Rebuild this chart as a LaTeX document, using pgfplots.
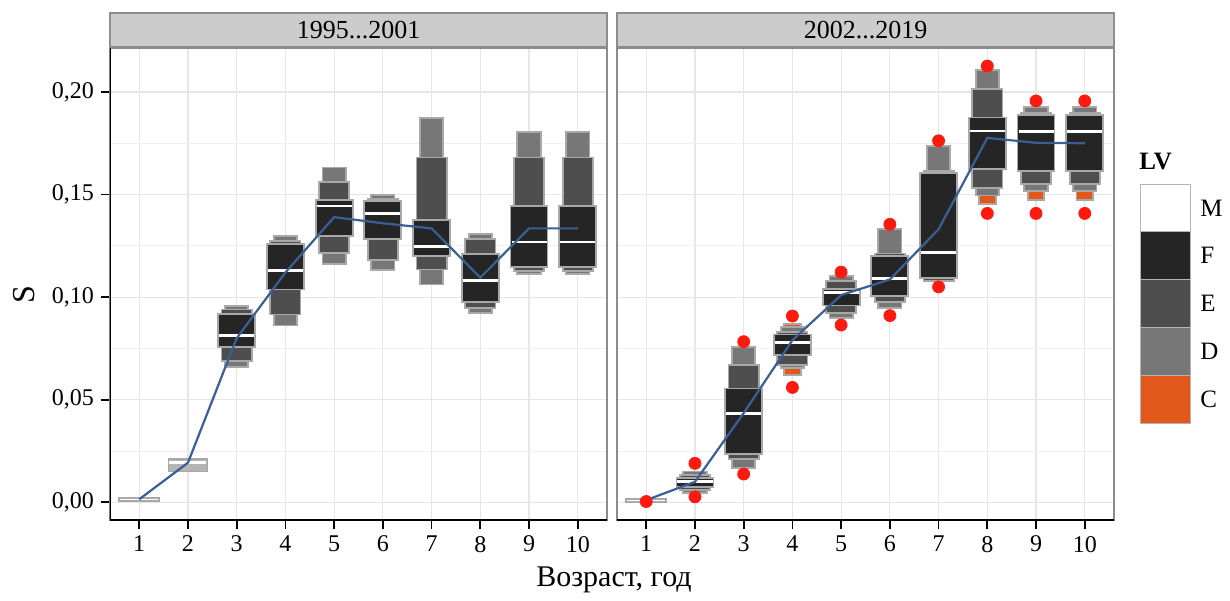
\documentclass[border=0pt]{standalone}
\usepackage{fontspec}
\setmainfont{Liberation Serif}
\usepackage{pgfplots}
\pgfplotsset{compat=1.18}
\definecolor{lvF}{HTML}{252525}
\definecolor{lvE}{HTML}{4E4E4E}
\definecolor{lvD}{HTML}{777777}
\definecolor{lvC}{HTML}{E2571A}
\definecolor{lvL}{HTML}{B4B4B4}
\definecolor{lvOut}{HTML}{A8A8A8}
\definecolor{lvRed}{HTML}{FF1A10}
\definecolor{lvBlue}{HTML}{3A5F96}
\definecolor{gridc}{HTML}{E6E6E6}
\definecolor{gridm}{HTML}{F0F0F0}
\definecolor{framec}{HTML}{8C8C8C}
\definecolor{stripc}{HTML}{CCCCCC}

\newcommand\lvbox[5]{%
  \pgfmathsetmacro\lvxa{#1-#4}%
  \pgfmathsetmacro\lvxb{#1+#4}%
  \edef\lvtmp{\noexpand\addplot[lvstyle, fill=#5] coordinates {(\lvxa,#2) (\lvxb,#2) (\lvxb,#3) (\lvxa,#3)} -- cycle;}%
  \lvtmp}
\newcommand\lvmed[3]{%
  \pgfmathsetmacro\lvxa{#1-#3+0.02}%
  \pgfmathsetmacro\lvxb{#1+#3-0.02}%
  \edef\lvtmp{\noexpand\addplot[white, line width=1.4pt] coordinates {(\lvxa,#2) (\lvxb,#2)};}%
  \lvtmp}
\newcommand\lvF[4]{\lvbox{#1}{#2}{#3}{0.38}{lvF}\lvmed{#1}{#4}{0.38}}
\newcommand\lvE[3]{\lvbox{#1}{#2}{#3}{0.31}{lvE}}
\newcommand\lvD[3]{\lvbox{#1}{#2}{#3}{0.24}{lvD}}
\newcommand\lvC[3]{\lvbox{#1}{#2}{#3}{0.17}{lvC}}

\pgfplotsset{
  lvstyle/.style={draw=lvOut, line width=0.9pt},
  lvaxis/.style={
    scale only axis, width=248.5pt, height=236pt,
    xmin=0.4, xmax=10.6, ymin=-0.0086, ymax=0.2214,
    xtick={1,2,3,4,5,6,7,8,9,10},
    ytick={0,0.05,0.1,0.15,0.2},
    minor ytick={0.025,0.075,0.125,0.175},
    grid=both,
    major grid style={draw=gridc, line width=0.6pt},
    minor grid style={draw=gridm, line width=0.5pt},
    axis line style={draw=framec, line width=0.6pt},
    xtick pos=bottom, ytick pos=left,
    tick align=outside,
    major tick length=4.5pt, minor tick length=0pt,
    tick style={black, line width=0.9pt},
    xticklabel style={font=\fontsize{12}{13}\selectfont},
    yticklabel style={font=\fontsize{12}{13}\selectfont,
      /pgf/number format/fixed, /pgf/number format/fixed zerofill,
      /pgf/number format/precision=2, /pgf/number format/use comma},
    /pgf/number format/assume math mode=true,
  }
}

\begin{document}
\begin{tikzpicture}
\useasboundingbox (-55pt,-40pt) rectangle (560pt,260pt);
% ---------------- panel 1995...2001 ----------------
\begin{axis}[lvaxis, at={(0pt,0pt)}, anchor=south west]
% age 1
\lvbox{1}{0.0006}{0.0022}{0.41}{white}
% age 2
\lvbox{2}{0.0150}{0.0213}{0.40}{lvL}
\lvmed{2}{0.0193}{0.40}
% age 3
\lvD{3}{0.0940}{0.0955}
\lvE{3}{0.0918}{0.0940}
\lvE{3}{0.0687}{0.0756}
\lvD{3}{0.0660}{0.0687}
\lvF{3}{0.0756}{0.0918}{0.0814}
% age 4
\lvD{4}{0.1272}{0.1298}
\lvE{4}{0.1258}{0.1272}
\lvE{4}{0.0915}{0.1037}
\lvD{4}{0.0862}{0.0915}
\lvF{4}{0.1037}{0.1258}{0.1130}
% age 5
\lvD{5}{0.1562}{0.1632}
\lvE{5}{0.1472}{0.1562}
\lvE{5}{0.1217}{0.1298}
\lvD{5}{0.1160}{0.1217}
\lvF{5}{0.1298}{0.1472}{0.1444}
% age 6
\lvD{6}{0.1480}{0.1498}
\lvE{6}{0.1470}{0.1480}
\lvE{6}{0.1181}{0.1282}
\lvD{6}{0.1132}{0.1181}
\lvF{6}{0.1282}{0.1470}{0.1407}
% age 7
\lvD{7}{0.1680}{0.1873}
\lvE{7}{0.1375}{0.1680}
\lvE{7}{0.1135}{0.1200}
\lvD{7}{0.1062}{0.1135}
\lvF{7}{0.1200}{0.1375}{0.1246}
% age 8
\lvD{8}{0.1282}{0.1309}
\lvE{8}{0.1210}{0.1282}
\lvE{8}{0.0948}{0.0978}
\lvD{8}{0.0923}{0.0948}
\lvF{8}{0.0978}{0.1210}{0.1081}
% age 9
\lvD{9}{0.1680}{0.1806}
\lvE{9}{0.1443}{0.1680}
\lvE{9}{0.1127}{0.1145}
\lvD{9}{0.1111}{0.1127}
\lvF{9}{0.1145}{0.1443}{0.1269}
% age 10
\lvD{10}{0.1680}{0.1806}
\lvE{10}{0.1443}{0.1680}
\lvE{10}{0.1127}{0.1145}
\lvD{10}{0.1111}{0.1127}
\lvF{10}{0.1145}{0.1443}{0.1269}
% mean line
\addplot[lvBlue, line width=1.1pt] coordinates {
 (1,0.0015) (2,0.0193) (3,0.0800) (4,0.1120) (5,0.1390)
 (6,0.1360) (7,0.1335) (8,0.1095) (9,0.1335) (10,0.1335)};
\draw[black, line width=1.1pt] (rel axis cs:0,1) -- (rel axis cs:0,0) -- (rel axis cs:1,0);
\end{axis}
% ---------------- panel 2002...2019 ----------------
\begin{axis}[lvaxis, at={(253.5pt,0pt)}, anchor=south west,
  yticklabels={}, ytick style={draw=none}]
% outliers
\addplot[only marks, mark=*, mark size=3pt, color=lvRed] coordinates {
 (1,0.0004) (2,0.0190) (2,0.0027) (3,0.0783) (3,0.0138)
 (4,0.0908) (4,0.0560) (5,0.1122) (5,0.0864) (6,0.1355) (6,0.0910)
 (7,0.1762) (7,0.1050) (8,0.2126) (8,0.1408) (9,0.1956) (9,0.1408)
 (10,0.1956) (10,0.1408)};
% age 1
\lvbox{1}{0.0002}{0.0018}{0.41}{white}
% age 2
\lvD{2}{0.0135}{0.0150}
\lvE{2}{0.0120}{0.0135}
\lvE{2}{0.0060}{0.0076}
\lvD{2}{0.0047}{0.0060}
\lvF{2}{0.0076}{0.0120}{0.0100}
% age 3
\lvD{3}{0.0669}{0.0758}
\lvE{3}{0.0555}{0.0669}
\lvE{3}{0.0210}{0.0236}
\lvD{3}{0.0166}{0.0210}
\lvF{3}{0.0236}{0.0555}{0.0434}
% age 4
\lvC{4}{0.0856}{0.0871}
\lvD{4}{0.0831}{0.0856}
\lvE{4}{0.0818}{0.0831}
\lvE{4}{0.0669}{0.0718}
\lvD{4}{0.0653}{0.0669}
\lvC{4}{0.0620}{0.0653}
\lvF{4}{0.0718}{0.0818}{0.0780}
% age 5
\lvD{5}{0.1078}{0.1103}
\lvE{5}{0.1040}{0.1078}
\lvE{5}{0.0923}{0.0959}
\lvD{5}{0.0899}{0.0923}
\lvF{5}{0.0959}{0.1040}{0.1021}
% age 6
\lvD{6}{0.1213}{0.1331}
\lvE{6}{0.1200}{0.1213}
\lvE{6}{0.0976}{0.1005}
\lvD{6}{0.0948}{0.0976}
\lvF{6}{0.1005}{0.1200}{0.1090}
% age 7
\lvD{7}{0.1616}{0.1738}
\lvE{7}{0.1604}{0.1616}
\lvE{7}{0.1078}{0.1094}
\lvF{7}{0.1094}{0.1604}{0.1217}
% age 8
\lvD{8}{0.2015}{0.2107}
\lvE{8}{0.1875}{0.2015}
\lvE{8}{0.1530}{0.1625}
\lvD{8}{0.1495}{0.1530}
\lvC{8}{0.1454}{0.1495}
\lvF{8}{0.1625}{0.1875}{0.1810}
% age 9
\lvD{9}{0.1896}{0.1928}
\lvE{9}{0.1887}{0.1896}
\lvE{9}{0.1552}{0.1615}
\lvD{9}{0.1518}{0.1552}
\lvC{9}{0.1473}{0.1518}
\lvF{9}{0.1615}{0.1887}{0.1806}
% age 10
\lvD{10}{0.1896}{0.1928}
\lvE{10}{0.1887}{0.1896}
\lvE{10}{0.1552}{0.1615}
\lvD{10}{0.1518}{0.1552}
\lvC{10}{0.1473}{0.1518}
\lvF{10}{0.1615}{0.1887}{0.1806}
% mean line
\addplot[lvBlue, line width=1.1pt] coordinates {
 (1,0.0011) (2,0.0100) (3,0.0435) (4,0.0790) (5,0.1010)
 (6,0.1086) (7,0.1331) (8,0.1776) (9,0.1752) (10,0.1750)};
\draw[black, line width=1.1pt] (rel axis cs:0,0) -- (rel axis cs:1,0);
\end{axis}
% strips
\draw[fill=stripc, draw=framec, line width=0.6pt] (0pt,236.5pt) rectangle (248.5pt,253.5pt);
\draw[fill=stripc, draw=framec, line width=0.6pt] (253.5pt,236.5pt) rectangle (502pt,253.5pt);
\node[font=\fontsize{13}{14}\selectfont] at (124.25pt,245pt) {1995...2001};
\node[font=\fontsize{13}{14}\selectfont] at (377.75pt,245pt) {2002...2019};
% axis titles
\node[font=\fontsize{16}{18}\selectfont, rotate=90] at (-43pt,112.5pt) {S};
\node[font=\fontsize{15}{17}\selectfont] at (252pt,-30pt) {Возраст, год};
% legend
\node[font=\fontsize{12.5}{14}\selectfont\bfseries, anchor=west, inner sep=0pt] at (514.5pt,179pt) {LV};
\fill[white] (515pt,144pt) rectangle (540pt,167.5pt);
\fill[lvF] (515pt,120.5pt) rectangle (540pt,144pt);
\fill[lvE] (515pt,96.5pt) rectangle (540pt,120.5pt);
\fill[lvD] (515pt,72.5pt) rectangle (540pt,96.5pt);
\fill[lvC] (515pt,48.5pt) rectangle (540pt,72.5pt);
\draw[draw=lvL, line width=0.5pt] (515pt,48.5pt) rectangle (540pt,167.5pt);
\foreach \yy in {72.5,96.5,120.5,144} {\draw[draw=lvL, line width=0.5pt] (515pt,\yy pt) -- (540pt,\yy pt);}
\foreach \lab/\yy in {M/155.75,F/132.25,E/108.5,D/84.5,C/60.5} {
  \node[font=\fontsize{12.5}{14}\selectfont, anchor=west, inner sep=0pt] at (545pt,\yy pt) {\lab};}
\end{tikzpicture}
\end{document}
